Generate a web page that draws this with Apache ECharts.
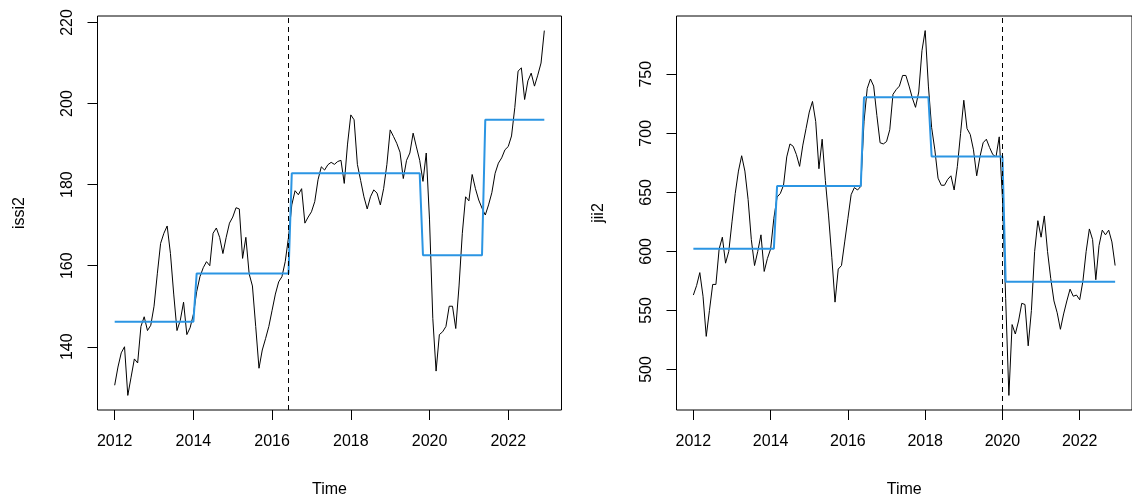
<!DOCTYPE html>
<html><head><meta charset="utf-8">
<script src="https://cdn.jsdelivr.net/npm/echarts@6/dist/echarts.min.js"></script>
<style>html,body{margin:0;padding:0;background:#fff}#c{width:1132px;height:503px}</style>
</head><body><div id="c"></div>
<script>
const startYear = 2012, freq = 12;
const issi2 = [
130.5,135,138.5,140,128,132.5,137,136,145,147.4,144,145.3,
150,158,165.5,168,169.8,163,153,144,146.5,151,143,144.7,
148,153.6,157.3,159.5,161,160,168,169.3,167,163,167,170.5,
172,174.3,174,161.8,167,158,155,145,134.7,139.2,142,145,
149,153,156,157.3,161,167,175,178.5,177.5,179,170.5,172,
173.3,175.8,181.2,184.4,183.6,184.9,185.5,185,185.7,186,180.3,190,
197.2,196,185,181,177,174,177,178.7,177.9,175,179,185,
193.5,191.9,190.2,188,181.5,186,187.8,192.7,189.3,186,180.8,187.8,
171.3,147,134,143,143.7,145,150,150,144.5,155,168,177,
176,182.5,179,176.2,174.2,172.5,175,178,182.8,185.3,186.6,188.6,
189.4,192,199,208,208.8,201,205.6,207.5,204.3,207,210,218];
const jii2 = [
563,571,582,562,528,550,572,572,602,612,590,600,
625,649,668,681,668,644,610,588,600,614,583,594,
602,628,646,649,656,680,691,689,682,672,690,704,
718,727,710,670,695,660,630,595,557,585,588,608,
628,648,654,652,655,710,738,746,740,715,692,691,
693,703,733,737,740,749,749,740,730,722,735,770,
787,740,705,686,662,656,656,661,664,652,672,700,
728,704,699,686,664,680,692,695,688,682,680,697,
645,560,478,538,530,541,556,555,520,550,600,626,
612,630,600,577,558,548,534,547,558,568,562,563,
559,575,600,619,610,576,605,618,614,618,608,588];
const issi2SegEnds = [24, 53, 93, 112];
const issi2Levels = [146.2, 158.1, 182.8, 162.6, 196.0];
const jii2SegEnds = [25, 52, 73, 96];
const jii2Levels = [602.3, 655.3, 730.6, 680.3, 574.2];
const issi2BreakIdx = 53;
const jii2BreakIdx = 96;
const xTickYears = [2012, 2014, 2016, 2018, 2020, 2022];
const issi2Ticks = [140, 160, 180, 200, 220];
const jii2Ticks = [500, 550, 600, 650, 700, 750];

const FONT = "'Liberation Sans', Arial, sans-serif";
const BLUE = '#2b95e3';

function toPairs(vals){ return vals.map((v,i)=>[startYear + i/freq, v]); }
function fitted(n, ends, levels){
  const out = [];
  for (let i = 0; i < n; i++){ let k = 0; while (k < ends.length && i > ends[k]) k++; out.push(levels[k]); }
  return out;
}
function padded(vals){ const mn = Math.min(...vals), mx = Math.max(...vals), d = (mx-mn)*0.04; return [mn-d, mx+d]; }
const xr = padded(issi2.map((_,i)=>startYear + i/freq));
const yr1 = padded(issi2), yr2 = padded(jii2);

const txt = {color:'#000', fontSize:16, fontFamily:FONT};
function xAxis(g){
  return {gridIndex:g, type:'value', min:xr[0], max:xr[1],
    axisLine:{show:false}, splitLine:{show:false},
    axisTick:{show:true, length:10, customValues:xTickYears, lineStyle:{color:'#000', width:1}},
    axisLabel:Object.assign({customValues:xTickYears, margin:24, formatter:v=>String(Math.round(v))}, txt),
    name:'Time', nameLocation:'middle', nameGap:72, nameTextStyle:txt};
}
function yAxis(g, r, ticks, name){
  return {gridIndex:g, type:'value', min:r[0], max:r[1],
    axisLine:{show:false}, splitLine:{show:false},
    axisTick:{show:true, length:10, customValues:ticks, lineStyle:{color:'#000', width:1}},
    axisLabel:Object.assign({customValues:ticks, margin:22, rotate:90, formatter:v=>String(Math.round(v))}, txt),
    name:name, nameLocation:'middle', nameGap:70, nameTextStyle:txt};
}
function dashed(idx){
  return {symbol:'none', silent:true, animation:false, label:{show:false},
    lineStyle:{type:[5,4], color:'#000', width:1}, data:[{xAxis:startYear + idx/freq}]};
}

const chart = echarts.init(document.getElementById('c'), null, {renderer:'canvas'});
chart.setOption({
  animation:false,
  backgroundColor:'#fff',
  grid:[
    {left:97.5, top:16, width:464, height:394, show:true, borderColor:'#000', borderWidth:1, containLabel:false},
    {left:676.5, top:16, width:464, height:394, show:true, borderColor:'#000', borderWidth:1, containLabel:false}
  ],
  xAxis:[xAxis(0), xAxis(1)],
  yAxis:[yAxis(0, yr1, issi2Ticks, 'issi2'), yAxis(1, yr2, jii2Ticks, 'jii2')],
  series:[
    {type:'line', xAxisIndex:0, yAxisIndex:0, data:toPairs(issi2), showSymbol:false,
      lineStyle:{color:'#000', width:1}, itemStyle:{color:'#000'}, markLine:dashed(issi2BreakIdx)},
    {type:'line', xAxisIndex:0, yAxisIndex:0, data:toPairs(fitted(issi2.length, issi2SegEnds, issi2Levels)),
      showSymbol:false, lineStyle:{color:BLUE, width:2}, itemStyle:{color:BLUE}},
    {type:'line', xAxisIndex:1, yAxisIndex:1, data:toPairs(jii2), showSymbol:false,
      lineStyle:{color:'#000', width:1}, itemStyle:{color:'#000'}, markLine:dashed(jii2BreakIdx)},
    {type:'line', xAxisIndex:1, yAxisIndex:1, data:toPairs(fitted(jii2.length, jii2SegEnds, jii2Levels)),
      showSymbol:false, lineStyle:{color:BLUE, width:2}, itemStyle:{color:BLUE}}
  ]
});
</script></body></html>
